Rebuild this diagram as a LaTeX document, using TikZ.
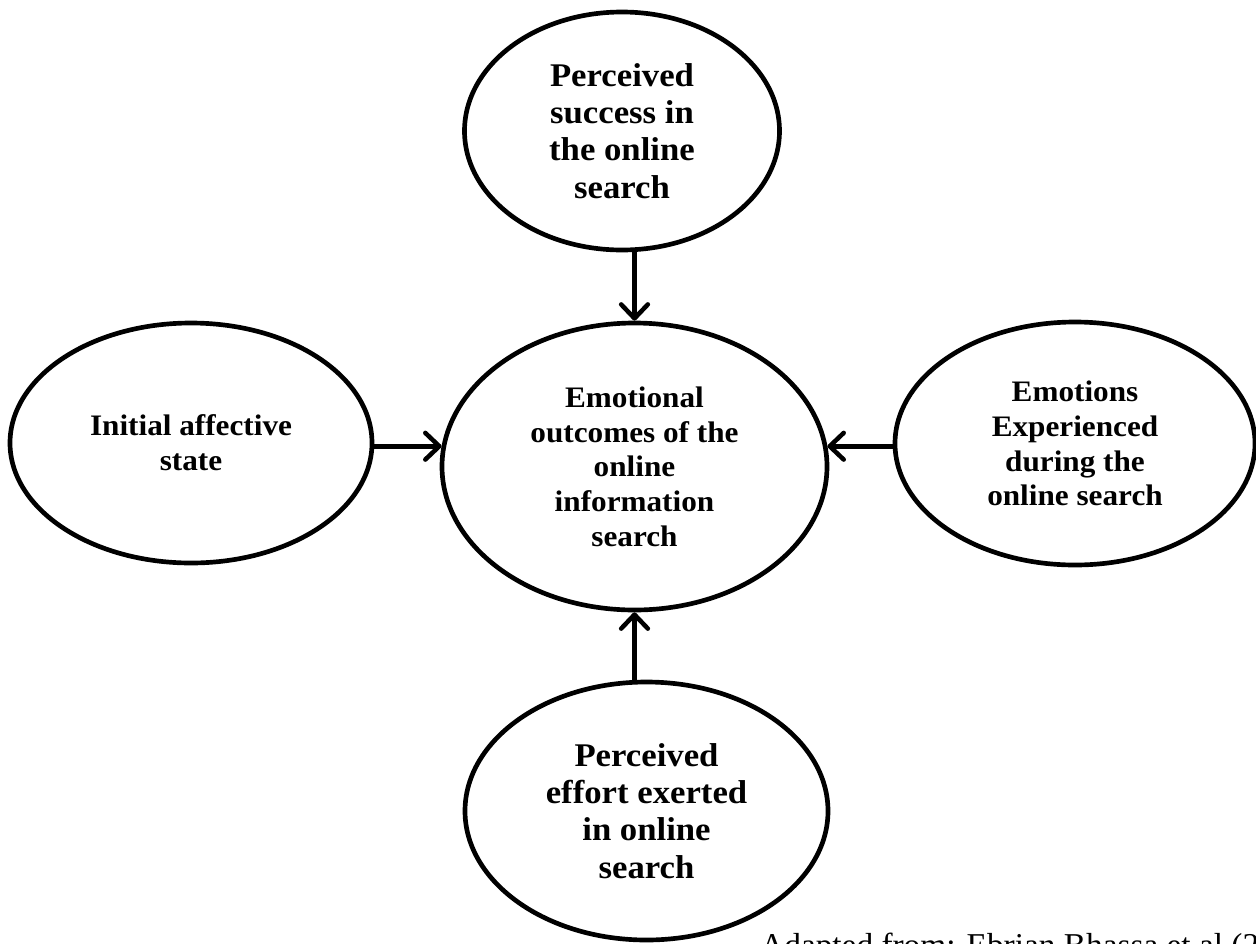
\documentclass[tikz,border=0pt]{standalone}
\usepackage{fontspec}
\setmainfont{Liberation Serif}
\newfontfamily\labelfont[FakeStretch=1.05]{Liberation Serif}
\usetikzlibrary{arrows.meta,shapes.geometric}
\begin{document}
\begin{tikzpicture}[x=0.75pt,y=-0.75pt,
  factor/.style={ellipse, draw, line width=3.5pt, inner sep=0pt, align=center,
    font=\labelfont\bfseries\fontsize{22.3}{26}\selectfont},
  bigtext/.style={font=\labelfont\bfseries\fontsize{24.8}{28}\selectfont},
  link/.style={line width=3.4pt, -{Straight Barb[length=10.5pt,width=20pt,round]}},
  source/.style={anchor=base west, fill=white, inner xsep=9pt, inner ysep=8.75pt,
    font=\fontsize{25}{29}\selectfont}]
\useasboundingbox (0,0) rectangle (1256,943);

% the five factors
\node[factor, bigtext, minimum width=236.25pt, minimum height=178.5pt] (success) at (622,131)
  {Perceived\\success in\\the online\\search};
\node[factor, minimum width=288.75pt, minimum height=215.25pt] (outcome) at (634.5,466.5)
  {Emotional\\outcomes of the\\online\\information\\search};
\node[factor, minimum width=271.5pt, minimum height=180pt] (initial) at (191,443)
  {Initial affective\\state};
\node[factor, minimum width=270pt, minimum height=182.25pt] (emotions) at (1075,443.5)
  {Emotions\\Experienced\\during the\\online search};
\node[factor, bigtext, minimum width=272.25pt, minimum height=193.5pt] (effort) at (646.5,811)
  {Perceived\\effort exerted\\in online\\search};

% influences on the outcome
\draw[link] (success.south -| outcome.north) -- (outcome.north);
\draw[link] (effort.north -| outcome.south) -- (outcome.south);
\draw[link] (initial.east |- outcome.174.5) -- (outcome.174.5);
\draw[link] (emotions.west |- outcome.6) -- (outcome.6);

% source line
\node[source] (cite) at (748,956) {Adapted from: Ebrian Bhassa et al (2};
\end{tikzpicture}
\end{document}
